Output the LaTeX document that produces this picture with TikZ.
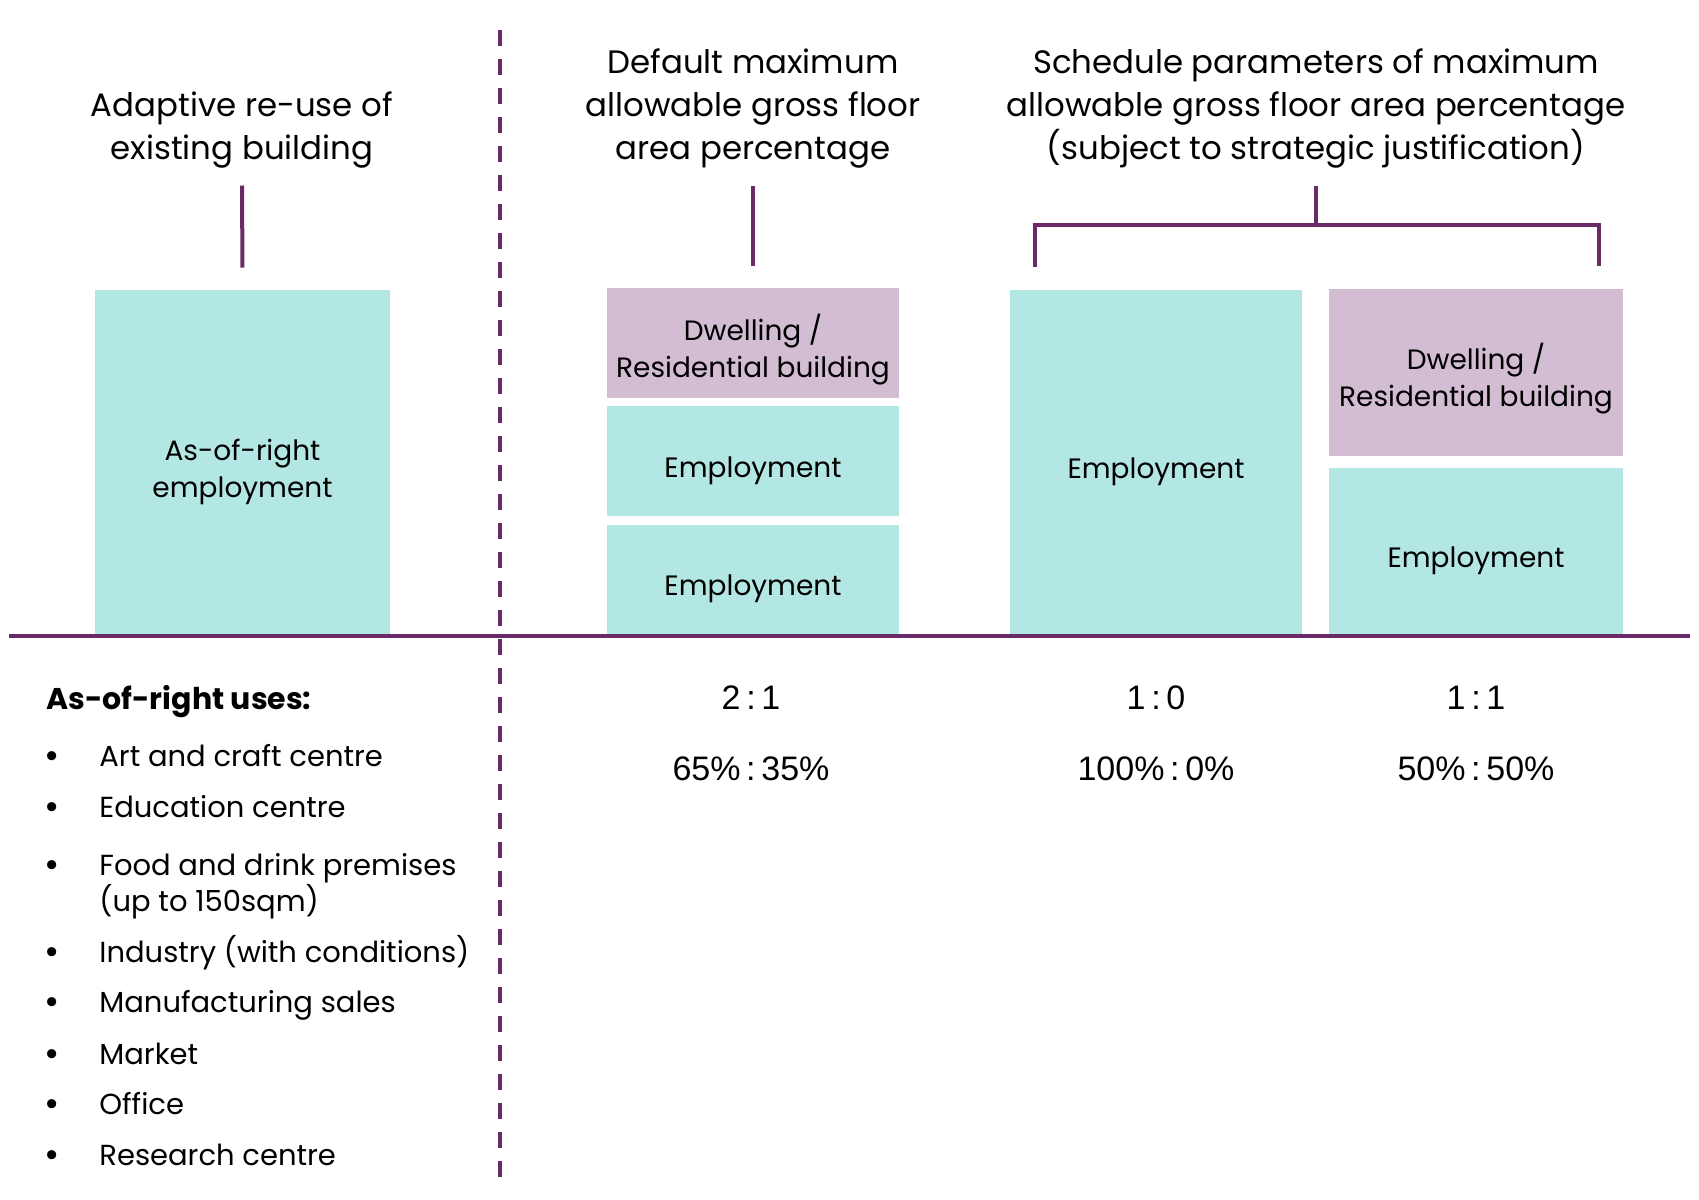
\documentclass[tikz,border=0pt]{standalone}
\usepackage{fontspec}
\setmainfont{Poppins}
\newfontfamily\numfont{Liberation Sans}
\usetikzlibrary{positioning}
\definecolor{empteal}{HTML}{B3E7E4}
\definecolor{dwlmauve}{HTML}{D2BDD2}
\definecolor{linepurple}{HTML}{6A2A68}
\newcommand\boxstrut{\rule{0pt}{19.5pt}}

\begin{document}
\begin{tikzpicture}[
  x=0.5pt, y=-0.5pt,
  ttl/.style={align=center, inner sep=0pt, anchor=south, font=\fontsize{16.2}{21.5}\selectfont},
  emp/.style={fill=empteal, minimum width=146pt, inner sep=0pt, align=center,
              font=\fontsize{14}{18.5}\selectfont},
  dwl/.style={emp, fill=dwlmauve},
  tick/.style={draw=linepurple, line width=2pt},
  ratio/.style={font=\numfont\fontsize{17}{20}\selectfont},
  item/.style={anchor=base west, inner sep=0pt, font=\fontsize{14.5}{18.5}\selectfont},
  dot/.style={anchor=base, inner sep=0pt, yshift=-1.2pt, font=\fontsize{18.5}{18.5}\selectfont}
]
\useasboundingbox (0,0) rectangle (1699,1200);

% column headings
\node[ttl] (ttlA) at (242,168.5) {Adaptive re-use of\\existing building};
\node[ttl] (ttlB) at (753,168.5) {Default maximum\\allowable gross floor\\area percentage};
\node[ttl] (ttlC) at (1316,168.5) {Schedule parameters of maximum\\allowable gross floor area percentage\\(subject to strategic justification)};

% floor area blocks
\node[emp, minimum width=147.5pt, minimum height=173pt] (boxA) at (242.5,463) {\boxstrut As-of-right\\employment};

\node[emp, minimum height=55.5pt, anchor=south] (empB2) at (753,636) {\boxstrut Employment};
\node[emp, minimum height=55pt, above=3.7pt of empB2] (empB1) {\boxstrut Employment};
\node[dwl, minimum height=55pt, above=3.7pt of empB1] (dwlB) {\boxstrut Dwelling /\\Residential building};

\node[emp, minimum height=173pt, anchor=south] (empC) at (1156,636) {\boxstrut Employment};
\node[emp, minimum width=147pt, minimum height=84pt, anchor=south] (empD) at (1476,636) {\boxstrut Employment};
\node[dwl, minimum width=147pt, minimum height=83.5pt, above=5.5pt of empD] (dwlD) {\boxstrut Dwelling /\\Residential building};

% ticks and bracket
\coordinate (brk) at (1316,225);
\draw[tick, shorten <=8.5pt, shorten >=11pt] (ttlA.south) -- (boxA.north);
\draw[tick, shorten <=8.5pt, shorten >=11pt] (ttlB.south) -- (dwlB.north);
\draw[tick, shorten <=8.5pt] (ttlC.south) -- (brk);
\draw[tick] ([xshift=12.5pt,yshift=11pt]empC.north west) |- (brk)
  -| ([xshift=-12pt,yshift=11pt]dwlD.north east);

% ground line and divider
\coordinate (gl) at (9,636);
\coordinate (gr) at (1690,636);
\coordinate (dtop) at (500,30);
\coordinate (dbot) at (500,1183);
\draw[tick] (gl) -- (gr);
\draw[tick, dash pattern=on 8pt off 6.5pt] (dtop) -- (dbot);

% ratios
\node[ratio] (rtB) at (751,698) {2\,:\,1};
\node[ratio] (pcB) at (751,769) {65\%\,:\,35\%};
\node[ratio] (rtC) at (1156,698) {1\,:\,0};
\node[ratio] (pcC) at (1156,769) {100\%\,:\,0\%};
\node[ratio] (rtD) at (1476,698) {1\,:\,1};
\node[ratio] (pcD) at (1476,769) {50\%\,:\,50\%};

% as-of-right uses
\node[item, font=\bfseries\fontsize{15}{18.5}\selectfont] (usehd) at (46,709) {As-of-right uses:};
\foreach \yb/\txt [count=\i] in {766/Art and craft centre, 817/Education centre,
    875/Food and drink premises, 962/Industry (with conditions),
    1012/Manufacturing sales, 1064/Market, 1114/Office, 1165/Research centre}{
  \node[dot] (dot\i) at (52,\yb) {\textbullet};
  \node[item] (use\i) at (99,\yb) {\txt};
}
\node[item] (use3b) at (99,911) {(up to 150sqm)};
\end{tikzpicture}
\end{document}
